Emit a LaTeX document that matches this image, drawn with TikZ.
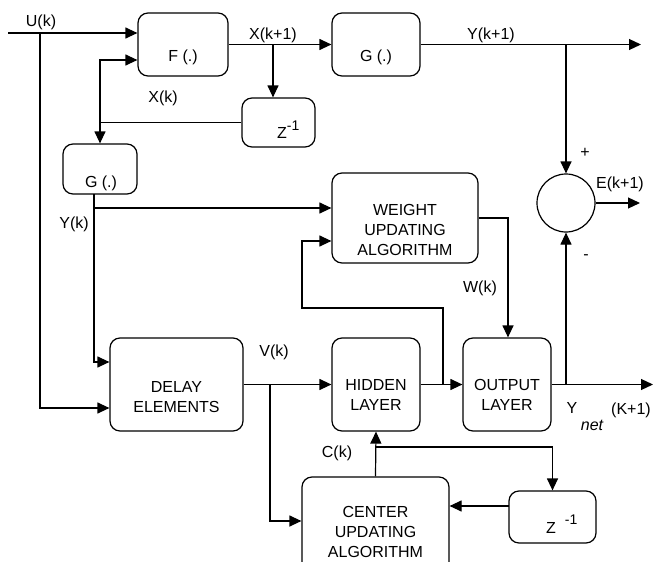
\documentclass[tikz,border=0pt]{standalone}
\usepackage{fontspec}
\setmainfont{Liberation Sans}
\usetikzlibrary{arrows.meta}
\begin{document}
\begin{tikzpicture}[x=1pt,y=-1pt,
  blk/.style={draw, line width=1.2pt, rounded corners=10pt, inner sep=0pt},
  arr/.style={line width=1.2pt, -{Triangle[length=12pt,width=11pt]}},
  ln/.style={line width=1.2pt},
  txt/.style={font=\fontsize{16}{20}\selectfont, inner sep=0pt, align=center},
  sml/.style={font=\fontsize{13}{13}\selectfont, inner sep=0pt},
]
\useasboundingbox (0,0) rectangle (654,562);
\clip (0,0) rectangle (654,562);

% blocks
\node[blk, minimum width=90pt, minimum height=63pt] (F) at (183,44.5) {};
\node[blk, minimum width=88pt, minimum height=63pt] (Gt) at (376,44.5) {};
\node[blk, minimum width=73pt, minimum height=49pt] (Zt) at (278.5,122.5) {};
\node[blk, minimum width=74pt, minimum height=50pt] (Gl) at (100,169) {};
\node[blk, minimum width=146pt, minimum height=90pt] (W) at (405,218) {};
\node[draw, line width=1.2pt, circle, minimum size=58pt, inner sep=0pt] (S) at (566,203) {};
\node[blk, minimum width=133pt, minimum height=93pt] (D) at (176.5,384.5) {};
\node[blk, minimum width=88pt, minimum height=93pt] (H) at (376,384.5) {};
\node[blk, minimum width=88pt, minimum height=93pt] (O) at (507,384.5) {};
\node[blk, minimum width=147pt, minimum height=108pt] (C) at (375.5,531) {};
\node[blk, minimum width=87pt, minimum height=52pt] (Zb) at (552.5,517) {};

% block texts
\node[txt] (tF) at (183,57) {F (.)};
\node[txt] (tGt) at (376,57) {G (.)};
\node[txt] (tGl) at (101,183) {G (.)};
\node[txt, anchor=base west] (tZt) at (277,138) {Z\raisebox{8pt}{\fontsize{14}{14}\selectfont -1}};
\node[txt] (tW) at (405,230) {WEIGHT\\UPDATING\\ALGORITHM};
\node[txt] (tD) at (176.5,397) {DELAY\\ELEMENTS};
\node[txt] (tH) at (376,395) {HIDDEN\\LAYER};
\node[txt] (tO) at (507,395) {OUTPUT\\LAYER};
\node[txt] (tC) at (375.5,532) {CENTER\\UPDATING\\ALGORITHM};
\node[txt, anchor=base west] (tZb) at (546,533) {Z\hspace{9pt}\raisebox{9pt}{\fontsize{14}{14}\selectfont -1}};

% signal labels
\node[txt] (lU) at (41,22) {U(k)};
\node[txt] (lX1) at (273,35) {X(k+1)};
\node[txt] (lX) at (163,98) {X(k)};
\node[txt] (lY1) at (491,35) {Y(k+1)};
\node[txt] (lplus) at (585,153) {+};
\node[txt] (lE) at (620,184) {E(k+1)};
\node[txt] (lminus) at (586,257) {-};
\node[txt] (lYk) at (74,224) {Y(k)};
\node[txt] (lW) at (480,288) {W(k)};
\node[txt] (lV) at (274,352) {V(k)};
\node[txt] (lC) at (337,453) {C(k)};
\node[txt] (lYn) at (572,408) {Y};
\node[txt, font=\fontsize{16}{20}\itshape] (lnet) at (592,425) {net};
\node[txt] (lK) at (631,410) {(K+1)};

% coordinates
\coordinate (uin) at (8,33);
\coordinate (uj) at (40,33);
\coordinate (u2) at (40,408);
\coordinate (xk) at (100,122.5);
\coordinate (f2) at (100,60);
\coordinate (xb) at (273,44.5);
\coordinate (yout) at (641,44.5);
\coordinate (yb) at (566,44.5);
\coordinate (eout) at (640,203);
\coordinate (gy) at (94,194);
\coordinate (d1) at (94,362);
\coordinate (ykb) at (94,208);
\coordinate (fb0) at (443,384.5);
\coordinate (fb1) at (443,308);
\coordinate (fb2) at (302,308);
\coordinate (fb3) at (302,241);
\coordinate (wk) at (508,218);
\coordinate (nout) at (653,384.5);
\coordinate (yn) at (566,384.5);
\coordinate (vb) at (270,384.5);
\coordinate (v2) at (270,521);
\coordinate (ck) at (376,447);
\coordinate (ck2) at (552.5,447);
\coordinate (zw) at (509,506);

% connectors
\draw[arr] (uin) -- (uin -| F.west);
\draw[arr] (uj) -- (u2) -- (u2 -| D.west);
\draw[ln] (Zt.west) -- (xk);
\draw[arr] (xk) -- (Gl.north);
\draw[arr] (xk) -- (f2) -- (f2 -| F.west);
\draw[arr] (F.east) -- (Gt.west);
\draw[arr] (xb) -- (xb |- Zt.north);
\draw[arr] (Gt.east) -- (yout);
\draw[arr] (yb) -- (S.north);
\draw[arr] (S.east) -- (eout);
\draw[arr] (gy) -- (d1) -- (d1 -| D.west);
\draw[arr] (ykb) -- (ykb -| W.west);
\draw[arr] (D.east) -- (H.west);
\draw[arr] (H.east) -- (O.west);
\draw[arr] (fb0) -- (fb1) -- (fb2) -- (fb3) -- (fb3 -| W.west);
\draw[arr] (W.east) -- (wk) -- (wk |- O.north);
\draw[arr] (O.east) -- (nout);
\draw[arr] (yn) -- (S.south);
\draw[arr] (vb) -- (v2) -- (v2 -| C.west);
\draw[arr] (C.north) -- (H.south);
\draw[arr] (ck) -- (ck2) -- (Zb.north);
\draw[arr] (zw) -- (zw -| C.east);
\end{tikzpicture}
\end{document}
